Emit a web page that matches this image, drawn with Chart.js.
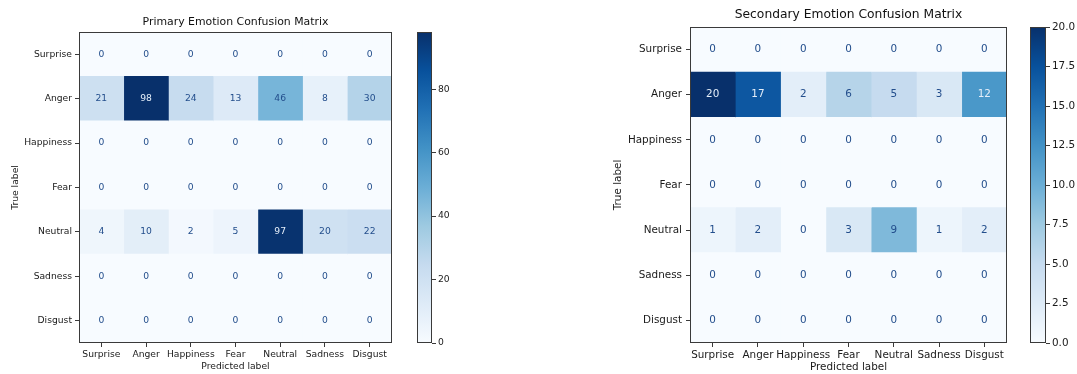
<!DOCTYPE html>
<html>
<head>
<meta charset="utf-8">
<script src="https://cdn.jsdelivr.net/npm/chart.js@4.4.1/dist/chart.umd.min.js"></script>
<style>
  html, body { margin: 0; padding: 0; background: #ffffff; }
  #wrap { position: relative; width: 1077px; height: 374px; overflow: hidden; }
  canvas { position: absolute; top: 0; }
</style>
</head>
<body>
<div id="wrap">
  <canvas id="primaryMatrix" width="400" height="374" style="left:0px"></canvas>
  <canvas id="primaryColorbar" width="60" height="374" style="left:400px"></canvas>
  <canvas id="secondaryMatrix" width="415" height="374" style="left:600px"></canvas>
  <canvas id="secondaryColorbar" width="62" height="374" style="left:1015px"></canvas>
</div>
<script>
// ---- data ----
const emotionLabels = ['Surprise', 'Anger', 'Happiness', 'Fear', 'Neutral', 'Sadness', 'Disgust'];

// rows = true label, columns = predicted label
const primarySurprise  = [0, 0, 0, 0, 0, 0, 0];
const primaryAnger     = [21, 98, 24, 13, 46, 8, 30];
const primaryHappiness = [0, 0, 0, 0, 0, 0, 0];
const primaryFear      = [0, 0, 0, 0, 0, 0, 0];
const primaryNeutral   = [4, 10, 2, 5, 97, 20, 22];
const primarySadness   = [0, 0, 0, 0, 0, 0, 0];
const primaryDisgust   = [0, 0, 0, 0, 0, 0, 0];

const secondarySurprise  = [0, 0, 0, 0, 0, 0, 0];
const secondaryAnger     = [20, 17, 2, 6, 5, 3, 12];
const secondaryHappiness = [0, 0, 0, 0, 0, 0, 0];
const secondaryFear      = [0, 0, 0, 0, 0, 0, 0];
const secondaryNeutral   = [1, 2, 0, 3, 9, 1, 2];
const secondarySadness   = [0, 0, 0, 0, 0, 0, 0];
const secondaryDisgust   = [0, 0, 0, 0, 0, 0, 0];

const primaryColorbarTicks = [0, 20, 40, 60, 80];
const secondaryColorbarTicks = [0, 2.5, 5, 7.5, 10, 12.5, 15, 17.5, 20];

const primaryRows = [primarySurprise, primaryAnger, primaryHappiness, primaryFear,
                     primaryNeutral, primarySadness, primaryDisgust];
const secondaryRows = [secondarySurprise, secondaryAnger, secondaryHappiness, secondaryFear,
                       secondaryNeutral, secondarySadness, secondaryDisgust];

// ---- "Blues" colour map ----
const BLUES = ['#f7fbff', '#deebf7', '#c6dbef', '#9ecae1', '#6baed6',
               '#4292c6', '#2171b5', '#08519c', '#08306b'];
function hexRgb(h) {
  return [parseInt(h.slice(1, 3), 16), parseInt(h.slice(3, 5), 16), parseInt(h.slice(5, 7), 16)];
}
function blues(t) {
  t = Math.min(1, Math.max(0, t));
  const p = t * (BLUES.length - 1);
  const i = Math.min(Math.floor(p), BLUES.length - 2);
  const f = p - i;
  const a = hexRgb(BLUES[i]), b = hexRgb(BLUES[i + 1]);
  const c = a.map((v, k) => Math.round(v + (b[k] - v) * f));
  return `rgb(${c[0]},${c[1]},${c[2]})`;
}

const FONT = 'DejaVu Sans';
const TEXT = '#1a1a1a';
const SPINE = '#3a3a3a';

// full rectangular frame around the plotting area
const framePlugin = {
  id: 'frame',
  afterDraw(chart) {
    const { ctx, chartArea: a } = chart;
    ctx.save();
    ctx.strokeStyle = SPINE;
    ctx.lineWidth = 1;
    ctx.strokeRect(Math.round(a.left) + 0.5, Math.round(a.top) + 0.5,
                   Math.round(a.right - a.left) - 1, Math.round(a.bottom - a.top) - 1);
    ctx.restore();
  }
};

// count written in the middle of each cell
const cellTextPlugin = {
  id: 'cellText',
  afterDatasetsDraw(chart, args, opts) {
    const { ctx, scales: { x, y } } = chart;
    const rows = opts.rows;
    const flat = rows.flat();
    const thresh = (Math.max(...flat) + Math.min(...flat)) / 2;
    ctx.save();
    ctx.font = `${opts.size}px "${FONT}"`;
    ctx.textAlign = 'center';
    ctx.textBaseline = 'middle';
    rows.forEach((row, r) => {
      row.forEach((v, c) => {
        ctx.fillStyle = v > thresh ? '#e4eef9' : '#234e8c';
        ctx.fillText(String(v), x.getPixelForValue(c), y.getPixelForValue(r));
      });
    });
    ctx.restore();
  }
};

function matrixChart(id, cfg) {
  const rows = cfg.rows;
  const vmax = Math.max(...rows.flat());
  const datasets = emotionLabels.map((col, c) => ({
    label: col,
    data: emotionLabels.map(() => [c - 0.5, c + 0.5]),
    backgroundColor: rows.map(row => blues(row[c] / vmax)),
    borderWidth: 0,
    barPercentage: 1,
    categoryPercentage: 1,
    grouped: false
  }));
  return new Chart(document.getElementById(id), {
    type: 'bar',
    data: { labels: emotionLabels, datasets },
    options: {
      indexAxis: 'y',
      responsive: false,
      animation: false,
      events: [],
      layout: { padding: { left: 0, right: 8, top: 0, bottom: 0 } },
      plugins: {
        legend: { display: false },
        tooltip: { enabled: false },
        title: {
          display: true,
          text: cfg.title,
          fullSize: false,
          color: '#111111',
          font: { family: FONT, size: cfg.titleSize, weight: 'normal' },
          padding: { top: cfg.titleTop, bottom: cfg.titleBottom }
        },
        cellText: { rows, size: cfg.tickSize }
      },
      scales: {
        x: {
          type: 'linear',
          min: -0.5,
          max: emotionLabels.length - 0.5,
          afterBuildTicks: s => { s.ticks = emotionLabels.map((_, i) => ({ value: i })); },
          afterFit: s => { s.height = 31; },
          ticks: {
            autoSkip: false, maxRotation: 0, padding: 2,
            color: TEXT, font: { family: FONT, size: cfg.tickSize },
            callback: (v, i) => emotionLabels[i]
          },
          grid: { drawOnChartArea: false, drawTicks: true, tickLength: 4, color: SPINE },
          border: { display: false },
          title: {
            display: true, text: 'Predicted label', color: TEXT,
            font: { family: FONT, size: cfg.tickSize },
            padding: { top: 0, bottom: cfg.xTitleBottom }
          }
        },
        y: {
          type: 'category',
          afterFit: s => { s.width = cfg.yWidth; },
          ticks: {
            autoSkip: false, padding: cfg.yTickPad,
            color: TEXT, font: { family: FONT, size: cfg.tickSize }
          },
          grid: { drawOnChartArea: false, drawTicks: true, tickLength: 4, color: SPINE, offset: false },
          border: { display: false },
          title: {
            display: true, text: 'True label', color: TEXT,
            font: { family: FONT, size: cfg.tickSize },
            padding: { top: cfg.yTitleTop, bottom: 0 }
          }
        }
      }
    },
    plugins: [cellTextPlugin, framePlugin]
  });
}

function colorbarChart(id, cfg) {
  return new Chart(document.getElementById(id), {
    type: 'bar',
    data: {
      labels: [''],
      datasets: [{
        data: [[0, cfg.vmax]],
        borderWidth: 0,
        barPercentage: 1,
        categoryPercentage: 1,
        backgroundColor: ctx => {
          const chart = ctx.chart;
          const y = chart.scales.y;
          if (!chart.chartArea || !y) return BLUES[4];
          const g = chart.ctx.createLinearGradient(0, y.getPixelForValue(0), 0, y.getPixelForValue(cfg.vmax));
          BLUES.forEach((col, i) => g.addColorStop(i / (BLUES.length - 1), col));
          return g;
        }
      }]
    },
    options: {
      responsive: false,
      animation: false,
      events: [],
      layout: { padding: { left: cfg.padLeft, right: 0, top: cfg.top, bottom: 31 } },
      plugins: { legend: { display: false }, tooltip: { enabled: false } },
      scales: {
        x: { display: false },
        y: {
          position: 'right',
          min: 0,
          max: cfg.vmax,
          afterBuildTicks: s => { s.ticks = cfg.ticks.map(v => ({ value: v })); },
          afterFit: s => { s.width = cfg.axisWidth; },
          ticks: {
            autoSkip: false, padding: 2,
            color: TEXT, font: { family: FONT, size: cfg.tickSize },
            callback: v => cfg.format(v)
          },
          grid: { drawOnChartArea: false, drawTicks: true, tickLength: 4, color: SPINE },
          border: { display: false }
        }
      }
    },
    plugins: [framePlugin]
  });
}

matrixChart('primaryMatrix', {
  rows: primaryRows,
  title: 'Primary Emotion Confusion Matrix',
  titleSize: 10.9, titleTop: 15.4, titleBottom: 3.5,
  tickSize: 9.2, yWidth: 79, yTickPad: 3, yTitleTop: 10.5, xTitleBottom: 1.4
});
colorbarChart('primaryColorbar', {
  vmax: Math.max(...primaryRows.flat()),
  ticks: primaryColorbarTicks,
  format: v => String(v),
  padLeft: 17, top: 32, axisWidth: 28, tickSize: 9.2
});

matrixChart('secondaryMatrix', {
  rows: secondaryRows,
  title: 'Secondary Emotion Confusion Matrix',
  titleSize: 12.3, titleTop: 7.6, titleBottom: 4.6,
  tickSize: 10.4, yWidth: 90, yTickPad: 4, yTitleTop: 11.8, xTitleBottom: 0
});
colorbarChart('secondaryColorbar', {
  vmax: Math.max(...secondaryRows.flat()),
  ticks: secondaryColorbarTicks,
  format: v => v.toFixed(1),
  padLeft: 15, top: 27, axisWidth: 31, tickSize: 10.4
});
</script>
</body>
</html>
